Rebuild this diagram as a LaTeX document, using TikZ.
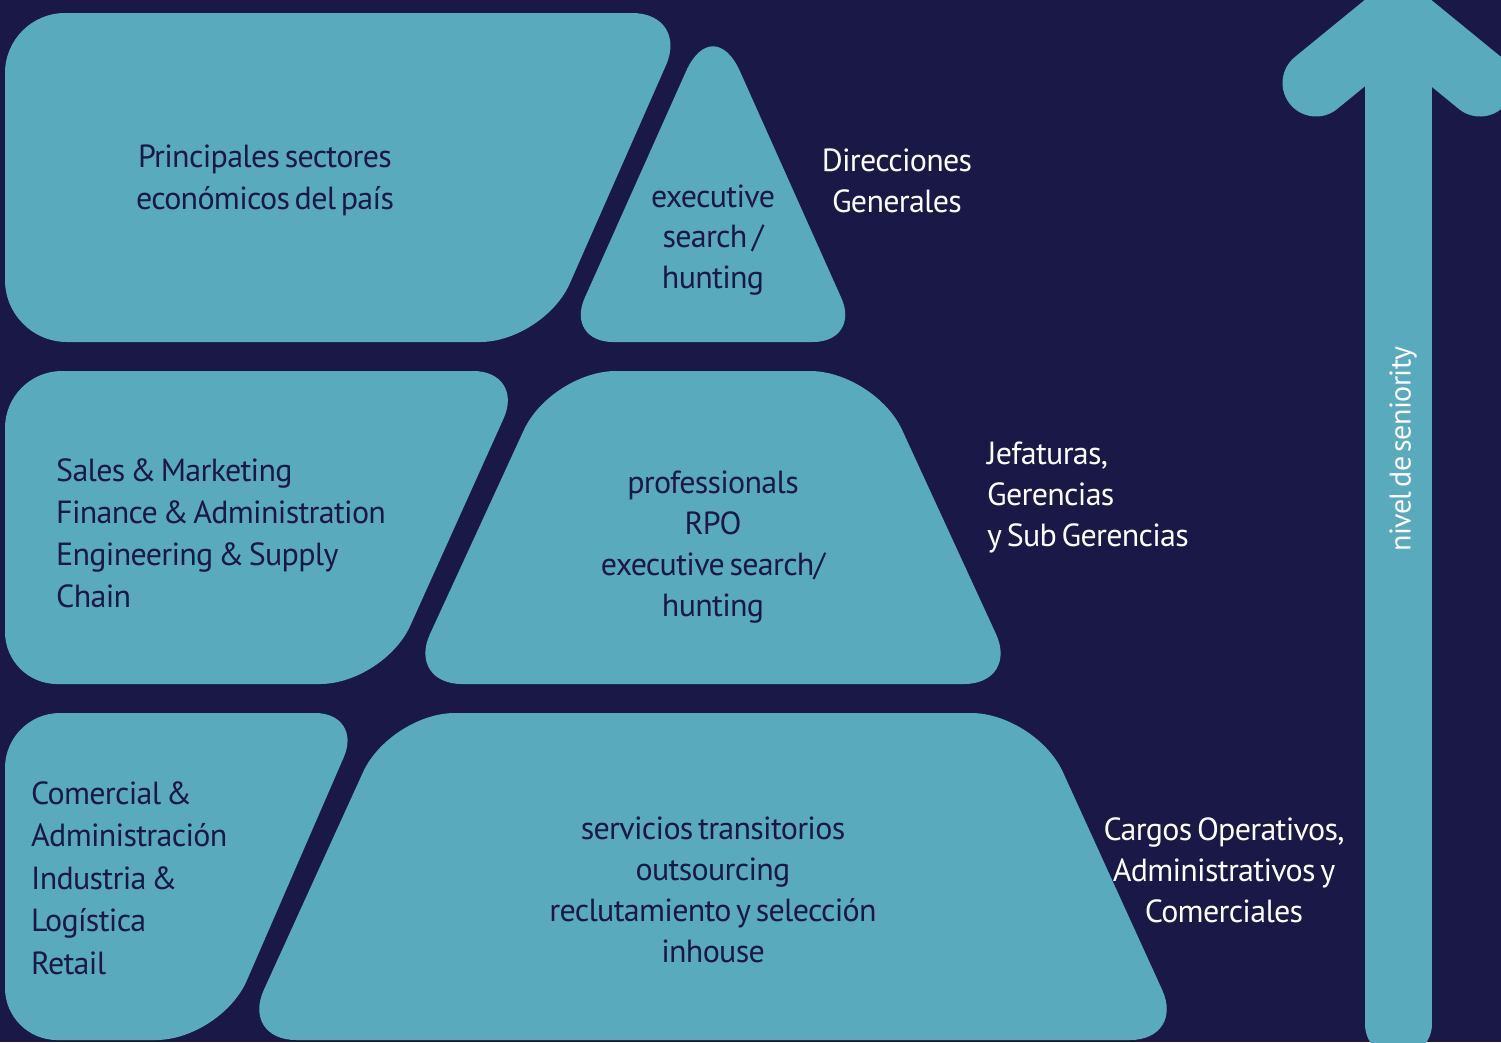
\documentclass[tikz,border=0pt]{standalone}
\usepackage{fontspec}
\setmainfont{PT Sans}[LetterSpace=-2.2, WordSpace=0.6]
\usetikzlibrary{calc}
\definecolor{bgnavy}{RGB}{26,24,70}
\definecolor{tealc}{RGB}{90,170,189}
\begin{document}
\begin{tikzpicture}[x=1pt,y=-1pt,
  rc/.style n args={4}{insert path={-- ($(#1)!#4!(#2)$) .. controls ($(#1)!{0.448*#4}!(#2)$) and ($(#1)!{0.448*#4}!(#3)$) .. ($(#1)!#4!(#3)$)}},
  blob/.style={fill=tealc},
  intext/.style={text=bgnavy, font=\fontsize{32}{42}\selectfont, inner sep=0pt},
  outtext/.style={text=white, font=\fontsize{32}{41}\selectfont, inner sep=0pt},
  arrowpart/.style={draw=tealc, line width=67pt, line cap=round}]
\useasboundingbox (0,0) rectangle (1501,1042);
\fill[bgnavy] (0,0) rectangle (1501,1042);
% top-left shape
\coordinate (a1) at (5,13); \coordinate (a2) at (689,13);
\coordinate (a3) at (544,342); \coordinate (a4) at (5,342);
\fill[blob] ($(a4)!0.5!(a1)$) [rc={a1}{a4}{a2}{60pt}] [rc={a2}{a1}{a3}{57pt}] [rc={a3}{a2}{a4}{64pt}] [rc={a4}{a3}{a1}{62pt}] -- cycle;
% triangle
\coordinate (t1) at (713,11); \coordinate (t2) at (861,342); \coordinate (t3) at (565,342);
\fill[blob] ($(t3)!0.5!(t2)$) [rc={t2}{t3}{t1}{48pt}] [rc={t1}{t2}{t3}{66pt}] [rc={t3}{t1}{t2}{48pt}] -- cycle;
% middle-left shape
\coordinate (b1) at (5,371); \coordinate (b2) at (525,371);
\coordinate (b3) at (384,684); \coordinate (b4) at (5,684);
\fill[blob] ($(b4)!0.5!(b1)$) [rc={b1}{b4}{b2}{57pt}] [rc={b2}{b1}{b3}{52pt}] [rc={b3}{b2}{b4}{64pt}] [rc={b4}{b3}{b1}{52pt}] -- cycle;
% middle trapezoid
\coordinate (c1) at (551,371); \coordinate (c2) at (875,371);
\coordinate (c3) at (1019,684); \coordinate (c4) at (407,684);
\fill[blob] ($(c4)!0.5!(c3)$) [rc={c3}{c4}{c2}{55pt}] [rc={c2}{c3}{c1}{65pt}] [rc={c1}{c2}{c4}{65pt}] [rc={c4}{c1}{c3}{55pt}] -- cycle;
% bottom-left shape
\coordinate (d1) at (5,713); \coordinate (d2) at (363,713);
\coordinate (d3) at (221,1040); \coordinate (d4) at (5,1040);
\fill[blob] ($(d4)!0.5!(d1)$) [rc={d1}{d4}{d2}{55pt}] [rc={d2}{d1}{d3}{48pt}] [rc={d3}{d2}{d4}{65pt}] [rc={d4}{d3}{d1}{52pt}] -- cycle;
% bottom trapezoid
\coordinate (e1) at (390,713); \coordinate (e2) at (1036,713);
\coordinate (e3) at (1185,1040); \coordinate (e4) at (241,1040);
\fill[blob] ($(e4)!0.5!(e3)$) [rc={e3}{e4}{e2}{55pt}] [rc={e2}{e3}{e1}{65pt}] [rc={e1}{e2}{e4}{65pt}] [rc={e4}{e1}{e3}{55pt}] -- cycle;
% arrow
\coordinate (hl) at (1316,83); \coordinate (ha) at (1398,16); \coordinate (hr) at (1480,83);
\coordinate (st) at (1398,60); \coordinate (sb) at (1398,1024);
\draw[arrowpart, line join=miter] (hl) -- (ha) -- (hr);
\draw[arrowpart] (st) -- (sb);
% texts
\node[intext, align=center] (n1) at (265,180) {Principales sectores\\económicos del país};
\node[intext, align=center, font=\fontsize{32}{40.5}\selectfont] (n2) at (713,240) {executive\\search /\\hunting};
\node[outtext, align=center] (n3) at (897,181) {Direcciones\\Generales};
\node[intext, align=left, anchor=west] (n4) at (56,533) {Sales \& Marketing\\Finance \& Administration\\Engineering \& Supply\\Chain};
\node[intext, align=center, font=\fontsize{32}{41}\selectfont] (n5) at (713,547) {professionals\\RPO\\executive search/\\hunting};
\node[outtext, align=left, anchor=west] (n6) at (987,497) {Jefaturas,\\Gerencias\\y Sub Gerencias};
\node[intext, align=left, anchor=west, font=\fontsize{32}{42.4}\selectfont] (n7) at (31,878) {Comercial \&\\Administración\\Industria \&\\Logística\\Retail};
\node[intext, align=center, font=\fontsize{32}{41}\selectfont] (n8) at (713,890) {servicios transitorios\\outsourcing\\reclutamiento y selección\\inhouse};
\node[outtext, align=center] (n9) at (1224,870) {Cargos Operativos,\\Administrativos y\\Comerciales};
\node[outtext, rotate=90, font=\fontsize{30}{36}\selectfont] (n10) at (1403,449) {nivel de seniority};
\end{tikzpicture}
\end{document}
